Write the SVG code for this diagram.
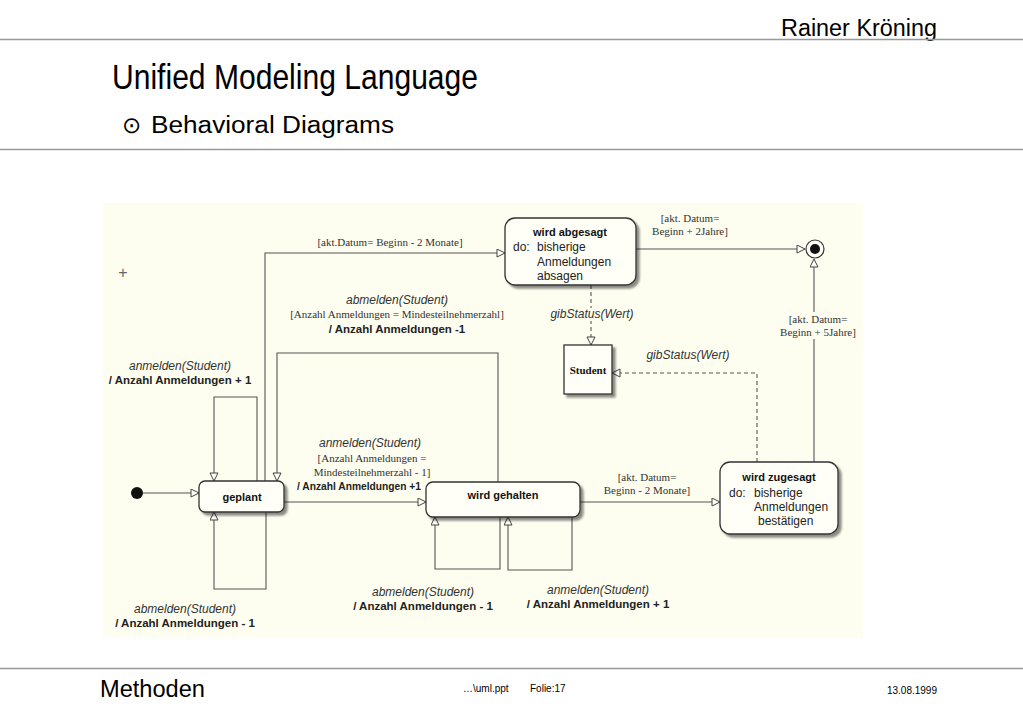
<svg xmlns="http://www.w3.org/2000/svg" width="1023" height="708" viewBox="0 0 1023 708">
<defs>
<marker id="tri" markerUnits="userSpaceOnUse" markerWidth="10" markerHeight="10" refX="9" refY="4.5" orient="auto">
<path d="M1,0.5 L9,4.5 L1,8.5 z" fill="#FFFFF4" stroke="#444" stroke-width="1"/>
</marker>
<filter id="sh" x="-10%" y="-10%" width="130%" height="140%">
<feOffset dx="3" dy="3" in="SourceAlpha" result="o"/>
<feGaussianBlur in="o" stdDeviation="1" result="b"/>
<feComponentTransfer in="b" result="c"><feFuncA type="linear" slope="0.45"/></feComponentTransfer>
<feMerge><feMergeNode in="c"/><feMergeNode in="SourceGraphic"/></feMerge>
</filter>
</defs>
<style>
.hdr{font-family:"Liberation Sans",Arial,sans-serif;fill:#000}
.st{fill:#FFFFF8;stroke:#333;stroke-width:1.3}
.c{fill:none;stroke:#555;stroke-width:1.1}
.d{fill:none;stroke:#555;stroke-width:1.1;stroke-dasharray:4 3}
.ev{font-family:"Liberation Sans",Arial,sans-serif;font-style:italic;font-size:12px;fill:#333;text-anchor:middle}
.ac{font-family:"Liberation Sans",Arial,sans-serif;font-weight:bold;font-size:11.5px;fill:#222;text-anchor:middle}
.gd{font-family:"Liberation Serif","Times New Roman",serif;font-size:11px;fill:#333;text-anchor:middle}
.sn{font-family:"Liberation Sans",Arial,sans-serif;font-weight:bold;font-size:11px;fill:#111;text-anchor:middle}
.sb{font-family:"Liberation Sans",Arial,sans-serif;font-size:12px;fill:#222}
</style>
<rect width="1023" height="708" fill="#FFFFFF"/>
<!-- header -->
<g id="header">
<text class="hdr" x="937" y="36" font-size="23" text-anchor="end" textLength="156" lengthAdjust="spacingAndGlyphs">Rainer Kröning</text>
<line x1="0" y1="39.5" x2="1023" y2="39.5" stroke="#999" stroke-width="1.5"/>
<text class="hdr" x="112" y="89" font-size="35" textLength="366" lengthAdjust="spacingAndGlyphs">Unified Modeling Language</text>
<text class="hdr" x="122" y="133" font-size="23">⊙</text>
<text class="hdr" x="151" y="133" font-size="23" textLength="243" lengthAdjust="spacingAndGlyphs">Behavioral Diagrams</text>
<line x1="0" y1="149.5" x2="1023" y2="149.5" stroke="#999" stroke-width="1.5"/>
</g>
<!-- footer -->
<g id="footer">
<line x1="0" y1="668.5" x2="1023" y2="668.5" stroke="#999" stroke-width="1.5"/>
<text class="hdr" x="100" y="697" font-size="23" textLength="105" lengthAdjust="spacingAndGlyphs">Methoden</text>
<text class="hdr" x="463" y="692" font-size="10">…\uml.ppt</text>
<text class="hdr" x="530" y="692" font-size="10">Folie:17</text>
<text class="hdr" x="937" y="694" font-size="10" text-anchor="end">13.08.1999</text>
</g>
<!-- panel -->
<rect x="103" y="203" width="760" height="435" fill="#FEFEF0"/>
<text x="123" y="278" font-family="Liberation Sans,Arial,sans-serif" font-size="16" fill="#666" text-anchor="middle">+</text>
<!-- connectors -->
<g id="connectors">
<line class="c" x1="143" y1="493" x2="199" y2="493" marker-end="url(#tri)"/>
<line class="c" x1="284" y1="502" x2="426" y2="502" marker-end="url(#tri)"/>
<polyline class="c" points="265,481 265,253 505,253" marker-end="url(#tri)"/>
<polyline class="c" points="257,481 257,397 214,397 214,481" marker-end="url(#tri)"/>
<polyline class="c" points="498,482 498,353 277,353 277,481" marker-end="url(#tri)"/>
<polyline class="c" points="266,512 266,589 214,589 214,512" marker-end="url(#tri)"/>
<polyline class="c" points="500,517 500,569 435,569 435,517" marker-end="url(#tri)"/>
<polyline class="c" points="572,517 572,570 508,570 508,517" marker-end="url(#tri)"/>
<line class="c" x1="580" y1="502" x2="720" y2="502" marker-end="url(#tri)"/>
<line class="c" x1="636" y1="249" x2="805" y2="249" marker-end="url(#tri)"/>
<line class="c" x1="814" y1="462" x2="814" y2="259" marker-end="url(#tri)"/>
<line class="d" x1="591" y1="285" x2="591" y2="345" marker-end="url(#tri)"/>
<polyline class="d" points="757,462 757,373 612,373" marker-end="url(#tri)"/>
<!-- label backgrounds -->
<rect x="778" y="312" width="82" height="27" fill="#FEFEF0"/>
<rect x="550" y="308" width="86" height="13" fill="#FEFEF0"/>
<!-- labels -->
<text class="gd" x="390" y="246">[akt.Datum= Beginn - 2 Monate]</text>
<text class="ev" x="397" y="304">abmelden(Student)</text>
<text class="gd" x="397" y="318">[Anzahl Anmeldungen = Mindesteilnehmerzahl]</text>
<text class="ac" x="397" y="333">/ Anzahl Anmeldungen -1</text>
<text class="ev" x="180" y="370">anmelden(Student)</text>
<text class="ac" x="180" y="384">/ Anzahl Anmeldungen + 1</text>
<text class="ev" x="370" y="447">anmelden(Student)</text>
<text class="gd" x="372" y="462">[Anzahl Anmeldungen =</text>
<text class="gd" x="372" y="476">Mindesteilnehmerzahl - 1]</text>
<text class="ac" x="359" y="490" textLength="124" lengthAdjust="spacingAndGlyphs">/ Anzahl Anmeldungen +1</text>
<text class="ev" x="185" y="613">abmelden(Student)</text>
<text class="ac" x="185" y="627">/ Anzahl Anmeldungen - 1</text>
<text class="ev" x="423" y="596">abmelden(Student)</text>
<text class="ac" x="423" y="610">/ Anzahl Anmeldungen - 1</text>
<text class="ev" x="598" y="594">anmelden(Student)</text>
<text class="ac" x="598" y="608">/ Anzahl Anmeldungen + 1</text>
<text class="gd" x="647" y="481">[akt. Datum=</text>
<text class="gd" x="647" y="494">Beginn - 2 Monate]</text>
<text class="gd" x="690" y="222">[akt. Datum=</text>
<text class="gd" x="690" y="235">Beginn + 2Jahre]</text>
<text class="gd" x="818" y="323">[akt. Datum=</text>
<text class="gd" x="818" y="336">Beginn + 5Jahre]</text>
<text class="ev" x="592" y="318">gibStatus(Wert)</text>
<text class="ev" x="688" y="359">gibStatus(Wert)</text>
</g>
<!-- nodes -->
<g id="initial">
<circle cx="137" cy="493" r="6" fill="#111"/>
</g>
<g id="geplant">
<rect class="st" x="199" y="481" width="85" height="31" rx="6" filter="url(#sh)"/>
<text class="sn" x="242" y="501">geplant</text>
</g>
<g id="wird-gehalten">
<rect class="st" x="426" y="482" width="154" height="35" rx="7" filter="url(#sh)"/>
<text class="sn" x="503" y="499">wird gehalten</text>
</g>
<g id="wird-abgesagt">
<rect class="st" x="505" y="218" width="131" height="67" rx="10" filter="url(#sh)"/>
<text class="sn" x="570" y="236">wird abgesagt</text>
<text class="sb" x="513" y="251">do:</text>
<text class="sb" x="537" y="251">bisherige</text>
<text class="sb" x="537" y="266">Anmeldungen</text>
<text class="sb" x="537" y="280">absagen</text>
</g>
<g id="wird-zugesagt">
<rect class="st" x="720" y="462" width="118" height="72" rx="10" filter="url(#sh)"/>
<text class="sn" x="779" y="481">wird zugesagt</text>
<text class="sb" x="729" y="497">do:</text>
<text class="sb" x="754" y="497">bisherige</text>
<text class="sb" x="754" y="511">Anmeldungen</text>
<text class="sb" x="758" y="525">bestätigen</text>
</g>
<g id="student">
<rect class="st" x="564" y="345" width="48" height="49" filter="url(#sh)"/>
<text x="588" y="374" font-family="Liberation Serif,Times New Roman,serif" font-weight="bold" font-size="11" fill="#111" text-anchor="middle">Student</text>
</g>
<g id="final">
<circle cx="815" cy="249" r="9" fill="#FFFFF8" stroke="#333" stroke-width="1.2"/>
<circle cx="815" cy="249" r="5" fill="#111"/>
</g>
</svg>
